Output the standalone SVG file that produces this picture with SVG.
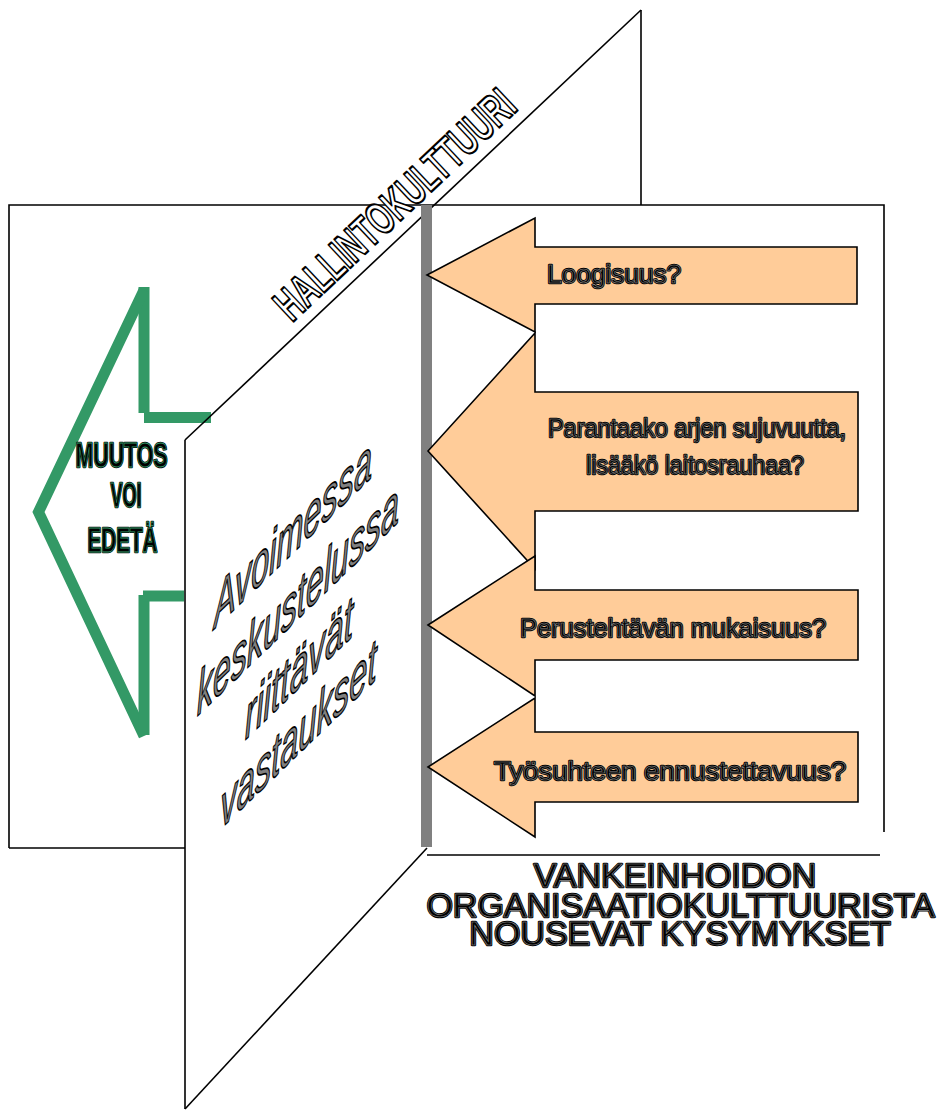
<svg xmlns="http://www.w3.org/2000/svg" width="951" height="1111" viewBox="0 0 951 1111">
<style>
.ln{fill:none;stroke:#000;stroke-width:1.6}
.grn{fill:none;stroke:#339966;stroke-width:11;stroke-linecap:butt;stroke-linejoin:miter}
.arr{fill:#FFCC99;stroke:#000;stroke-width:1.6;stroke-linejoin:miter}
.t{font-family:"Liberation Sans",Arial,sans-serif}
.q{font-size:26px}
.base{fill:#000;stroke:#000;stroke-width:2.4;stroke-linejoin:round}
.topg{fill:#000;stroke:#8c8c8c;stroke-width:0.6}
.topgr{fill:#000;stroke:#339966;stroke-width:0.9}
.muu{font-size:35px;font-weight:bold}
.bot{font-size:34px}
.hal{font-size:46px;font-weight:bold;fill:#fff;stroke:#000;stroke-width:2.2;stroke-linejoin:round}
.avo{font-size:60px;font-style:italic;fill:#808080;stroke:#000;stroke-width:1.6;stroke-linejoin:round}
</style>

<g id="frame">
<polyline class="ln" points="9,848 185,848"/>
<polyline class="ln" points="9,848 9,205 884,205 884,832"/>
<line class="ln" x1="427" y1="855" x2="880" y2="855"/>
<line class="ln" x1="641" y1="10" x2="641" y2="205"/>
</g>

<g id="green-arrow">
<line class="grn" x1="144" y1="287" x2="144" y2="413"/>
<line class="grn" x1="144" y1="417.5" x2="211" y2="417.5"/>
<polyline class="grn" points="144,290 38.5,512 144,736"/>
<line class="grn" x1="144" y1="595" x2="144" y2="735"/>
<line class="grn" x1="143" y1="596" x2="184" y2="596"/>
</g>

<g id="muutos">
<g class="t muu" text-anchor="middle">
<text class="base" x="121.5" y="467" textLength="92" lengthAdjust="spacingAndGlyphs">MUUTOS</text>
<text class="topgr" x="121.5" y="467" textLength="92" lengthAdjust="spacingAndGlyphs">MUUTOS</text>
<text class="base" x="126" y="507" textLength="31" lengthAdjust="spacingAndGlyphs">VOI</text>
<text class="topgr" x="126" y="507" textLength="31" lengthAdjust="spacingAndGlyphs">VOI</text>
<text class="base" x="122.5" y="552" textLength="70" lengthAdjust="spacingAndGlyphs">EDETÄ</text>
<text class="topgr" x="122.5" y="552" textLength="70" lengthAdjust="spacingAndGlyphs">EDETÄ</text>
</g>
</g>

<g id="plane">
<line class="ln" x1="185" y1="440" x2="641" y2="10"/>
<line class="ln" x1="185" y1="440" x2="185" y2="1109"/>
<line class="ln" x1="185" y1="1109" x2="427" y2="848"/>
<rect x="421" y="205" width="11" height="642" fill="#808080"/>
</g>

<g id="hallinto">
<text class="t hal" transform="translate(292,323) rotate(-43.3)" x="0" y="0" textLength="312" lengthAdjust="spacingAndGlyphs">HALLINTOKULTTUURI</text>
</g>

<g id="avoimessa" class="t avo" text-anchor="middle">
<text transform="translate(293,553) skewY(-44)" textLength="158" lengthAdjust="spacingAndGlyphs">Avoimessa</text>
<text transform="translate(298,619) skewY(-44)" textLength="202" lengthAdjust="spacingAndGlyphs">keskustelussa</text>
<text transform="translate(299,688) skewY(-44)" textLength="108" lengthAdjust="spacingAndGlyphs">riittävät</text>
<text transform="translate(298.5,754) skewY(-44)" textLength="156" lengthAdjust="spacingAndGlyphs">vastaukset</text>
</g>

<g id="q1">
<polygon class="arr" points="427,275 535,218 535,247 857,247 857,304 535,304 535,332"/>
<g class="t q">
<text class="base" x="547" y="283" textLength="134" lengthAdjust="spacingAndGlyphs">Loogisuus?</text>
<text class="topg" x="547" y="283" textLength="134" lengthAdjust="spacingAndGlyphs">Loogisuus?</text>
</g>
</g>

<g id="q2">
<polygon class="arr" points="428,451 535,333 535,392 858,392 858,511 535,511 535,569"/>
<g class="t q">
<text class="base" x="548" y="437" textLength="298" lengthAdjust="spacingAndGlyphs">Parantaako arjen sujuvuutta,</text>
<text class="topg" x="548" y="437" textLength="298" lengthAdjust="spacingAndGlyphs">Parantaako arjen sujuvuutta,</text>
<text class="base" x="586" y="474" textLength="218" lengthAdjust="spacingAndGlyphs">lisääkö laitosrauhaa?</text>
<text class="topg" x="586" y="474" textLength="218" lengthAdjust="spacingAndGlyphs">lisääkö laitosrauhaa?</text>
</g>
</g>

<g id="q3">
<polygon class="arr" points="428,625 535,556 535,590 858,590 858,660 535,660 535,696"/>
<g class="t q">
<text class="base" x="520" y="637" textLength="306" lengthAdjust="spacingAndGlyphs">Perustehtävän mukaisuus?</text>
<text class="topg" x="520" y="637" textLength="306" lengthAdjust="spacingAndGlyphs">Perustehtävän mukaisuus?</text>
</g>
</g>

<g id="q4">
<polygon class="arr" points="428,767 535,698 535,732 858,732 858,802 535,802 535,837"/>
<g class="t q">
<text class="base" x="494" y="780" textLength="352" lengthAdjust="spacingAndGlyphs">Työsuhteen ennustettavuus?</text>
<text class="topg" x="494" y="780" textLength="352" lengthAdjust="spacingAndGlyphs">Työsuhteen ennustettavuus?</text>
</g>
</g>

<g id="title" class="t bot" text-anchor="middle">
<text class="base" x="675" y="887">VANKEINHOIDON</text>
<text class="topg" x="675" y="887">VANKEINHOIDON</text>
<text class="base" x="680.5" y="917">ORGANISAATIOKULTTUURISTA</text>
<text class="topg" x="680.5" y="917">ORGANISAATIOKULTTUURISTA</text>
<text class="base" x="680" y="945">NOUSEVAT KYSYMYKSET</text>
<text class="topg" x="680" y="945">NOUSEVAT KYSYMYKSET</text>
</g>
</svg>
